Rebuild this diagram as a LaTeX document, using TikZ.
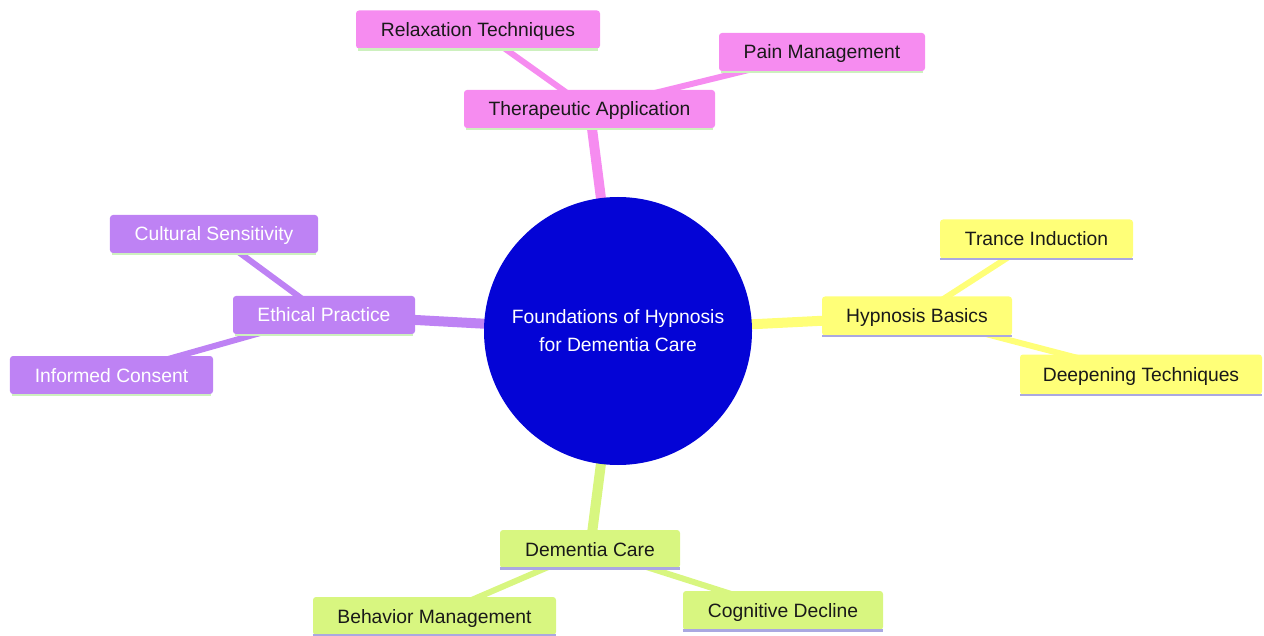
\documentclass[tikz,border=0pt]{standalone}
\usepackage{fontspec}
\setmainfont{Liberation Sans}
\usetikzlibrary{backgrounds}
\definecolor{pinkc}{RGB}{246,140,240}
\definecolor{purpc}{RGB}{190,130,244}
\definecolor{yelc}{RGB}{255,255,120}
\definecolor{grnc}{RGB}{216,246,128}
\definecolor{lavline}{RGB}{170,168,225}
\definecolor{grnline}{RGB}{205,240,190}
\definecolor{rootc}{RGB}{4,4,214}
\definecolor{txtc}{RGB}{25,25,25}
\tikzset{
  box/.style={rectangle, rounded corners=3bp, inner sep=0pt, text height=14bp, text depth=0bp,
    font=\fontsize{19.3bp}{23bp}\selectfont, text=txtc},
  pinkbox/.style={box, fill=pinkc},
  purpbox/.style={box, fill=purpc, text=white},
  yelbox/.style={box, fill=yelc},
  grnbox/.style={box, fill=grnc},
  rootedge/.style={line width=10bp},
  kidedge/.style={line width=6bp},
  botline/.style={line width=2.5bp}
}
\begin{document}
\begin{tikzpicture}[x=1bp,y=-1bp]
\useasboundingbox (0,0) rectangle (1264,636);
% nodes
\node[pinkbox, minimum width=251bp, minimum height=38bp] (thera) at (589.5,109) {Therapeutic Application};
\node[pinkbox, minimum width=244bp, minimum height=38bp] (relax) at (478,29.5) {Relaxation Techniques};
\node[pinkbox, minimum width=206bp, minimum height=38bp] (pain) at (822,52) {Pain Management};
\node[purpbox, minimum width=182bp, minimum height=38bp] (ethic) at (324,315) {Ethical Practice};
\node[purpbox, minimum width=208bp, minimum height=38bp] (cult) at (214,234) {Cultural Sensitivity};
\node[purpbox, minimum width=203bp, minimum height=38bp] (inform) at (111.5,375) {Informed Consent};
\node[yelbox, minimum width=190bp, minimum height=39bp] (hyp) at (917,316) {Hypnosis Basics};
\node[yelbox, minimum width=193bp, minimum height=39bp] (trance) at (1036.5,239) {Trance Induction};
\node[yelbox, minimum width=242bp, minimum height=40bp] (deep) at (1141,374.5) {Deepening Techniques};
\node[grnbox, minimum width=180bp, minimum height=38bp] (dem) at (590,549) {Dementia Care};
\node[grnbox, minimum width=243bp, minimum height=38bp] (behav) at (434.5,616) {Behavior Management};
\node[grnbox, minimum width=200bp, minimum height=39bp] (cog) at (783,610.5) {Cognitive Decline};
\node[circle, fill=rootc, minimum size=268bp, inner sep=0pt, text=white, align=center,
      font=\fontsize{19.3bp}{28bp}\selectfont] (root) at (618,331) {Foundations of Hypnosis\\for Dementia Care};
% bottom lines of boxes
\foreach \n in {thera,relax,pain,ethic,cult,inform}
  \draw[botline, grnline] ([xshift=2bp,yshift=-1bp]\n.south west) -- ([xshift=-2bp,yshift=-1bp]\n.south east);
\foreach \n in {hyp,trance,deep,dem,behav,cog}
  \draw[botline, lavline] ([yshift=-0.5bp]\n.south west) -- ([yshift=-0.5bp]\n.south east);
% connectors behind nodes
\begin{scope}[on background layer]
  \draw[rootedge, pinkc] (root.center) -- (thera.center);
  \draw[rootedge, purpc] (root.center) -- (ethic.center);
  \draw[rootedge, yelc] (root.center) -- (hyp.center);
  \draw[rootedge, grnc] (root.center) -- (dem.center);
  \draw[kidedge, pinkc] (thera.center) -- (relax.center);
  \draw[kidedge, pinkc] (thera.center) -- (pain.center);
  \draw[kidedge, purpc] (ethic.center) -- (cult.center);
  \draw[kidedge, purpc] (ethic.center) -- (inform.center);
  \draw[kidedge, yelc] (hyp.center) -- (trance.center);
  \draw[kidedge, yelc] (hyp.center) -- (deep.center);
  \draw[kidedge, grnc] (dem.center) -- (behav.center);
  \draw[kidedge, grnc] (dem.center) -- (cog.center);
\end{scope}
\end{tikzpicture}
\end{document}
